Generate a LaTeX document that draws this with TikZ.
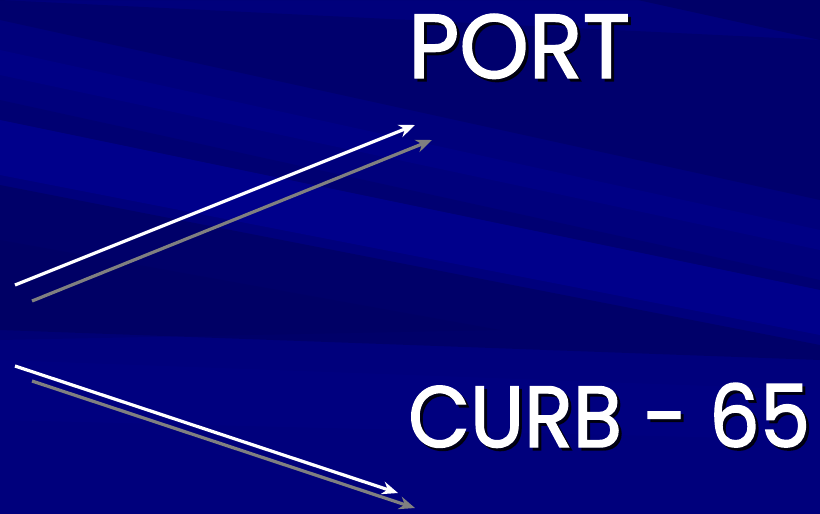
\documentclass[tikz,border=0pt]{standalone}
\usepackage{fontspec}
\setmainfont{Poppins}
\newfontfamily\lblfont{Poppins}[FakeBold=1.6]
\usetikzlibrary{arrows.meta}
\definecolor{bgbase}{HTML}{00007C}
\definecolor{bgdark}{HTML}{000058}
\definecolor{bgbright}{HTML}{00009A}
\definecolor{shade}{HTML}{808080}
\newcommand{\porttext}{\resizebox{222pt}{64pt}{\lblfont PORT}}
\newcommand{\curbtext}{\resizebox{402pt}{64pt}{\lblfont CURB - 65}}
\tikzset{
  lbl/.style={anchor=base west, inner sep=0pt, text=white},
  lblshadow/.style={anchor=base west, inner sep=0pt, text=black, opacity=0.8},
  whitearrow/.style={draw=white, line width=3.2pt, -{Stealth[length=16pt,width=13pt]}},
  grayarrow/.style={draw=shade, line width=3.2pt, -{Stealth[length=16pt,width=13pt]}}
}
\begin{document}
\begin{tikzpicture}[x=1pt,y=-1pt]
\useasboundingbox (0,0) rectangle (820,514);
% background
\fill[bgbase] (0,0) rectangle (820,514);
\fill[bgdark, opacity=0.55] (0,0) -- (820,0) -- (820,40) -- (0,-140) -- cycle;
\fill[bgdark, opacity=0.4] (0,0) -- (0,20) -- (820,200) -- (820,40) -- cycle;
\fill[bgbright, opacity=0.3] (0,50) -- (820,230) -- (820,250) -- (0,75) -- cycle;
\fill[bgdark, opacity=0.25] (0,100) -- (820,280) -- (820,290) -- (0,120) -- cycle;
\fill[bgbright, opacity=0.5] (0,120) -- (820,290) -- (820,335) -- (0,175) -- cycle;
\fill[bgdark, opacity=0.5] (0,185) -- (820,345) -- (820,360) -- (0,330) -- cycle;
\fill[bgdark, opacity=0.2] (0,240) -- (500,330) -- (0,340) -- cycle;
\fill[bgbright, opacity=0.1] (0,360) -- (820,390) -- (820,440) -- (0,420) -- cycle;
% texts
\node[lblshadow] (portsh) at (411,81) {\porttext};
\node[lbl] (port) at (408,78) {\porttext};
\node[lblshadow] (curbsh) at (411,450) {\curbtext};
\node[lbl] (curb) at (408,447) {\curbtext};
% arrow endpoints
\coordinate (a1s) at (15,285);
\coordinate (a1e) at (415,125);
\coordinate (g1s) at (32,301);
\coordinate (g1e) at (432,140);
\coordinate (a2s) at (15,366);
\coordinate (a2e) at (398,493);
\coordinate (g2s) at (32,381);
\coordinate (g2e) at (415,508);
\draw[grayarrow] (g1s) -- (g1e);
\draw[whitearrow] (a1s) -- (a1e);
\draw[grayarrow] (g2s) -- (g2e);
\draw[whitearrow] (a2s) -- (a2e);
\end{tikzpicture}
\end{document}
